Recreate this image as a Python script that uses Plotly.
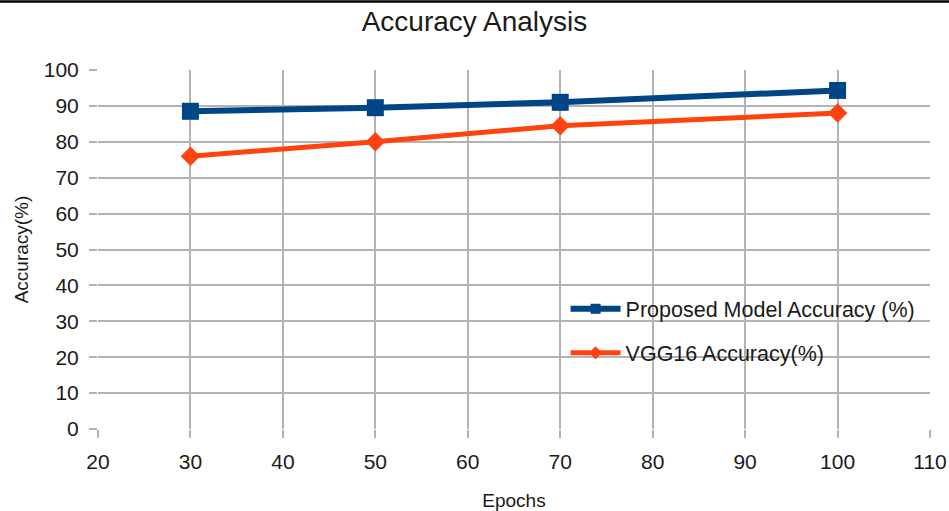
import plotly.graph_objects as go

# Accuracy per training length
epochs = [30, 50, 70, 100]
proposed_acc = [88.5, 89.5, 91.0, 94.3]
vgg16_acc = [76.0, 80.0, 84.5, 88.0]

series_names = ["Proposed Model Accuracy (%)", "VGG16 Accuracy(%)"]
series_colors = ["#004586", "#ff420e"]
series_symbols = ["square", "diamond"]

FONT = "Liberation Sans, Arial, sans-serif"
TEXT = "#1a1a1a"
GRID = "#b3b3b3"

fig = go.Figure()
for values, name, color, symbol, lw, ms in zip(
        [proposed_acc, vgg16_acc], series_names, series_colors,
        series_symbols, [6, 5], [17, 15]):
    fig.add_trace(go.Scatter(
        x=epochs, y=values, name=name, mode="lines+markers",
        line=dict(color=color, width=lw),
        marker=dict(symbol=symbol, size=ms, color=color),
        showlegend=False,
    ))

# Legend entries with a smaller marker on the line sample
for i, (name, color, symbol, lw) in enumerate(
        zip(series_names, series_colors, series_symbols, [6, 5])):
    fig.add_trace(go.Scatter(
        x=[None], y=[None], name=name, mode="lines+markers",
        line=dict(color=color, width=lw),
        marker=dict(symbol=symbol, size=10, color=color),
        legendgroup=f"g{i}",
    ))

axis_common = dict(
    showgrid=True, gridcolor=GRID, gridwidth=1.6,
    ticks="outside", ticklen=8, tickcolor=GRID, tickwidth=1.6,
    showline=False, zeroline=False, automargin=False,
    tickfont=dict(family=FONT, size=21, color=TEXT),
)

fig.update_layout(
    width=949, height=511,
    margin=dict(l=98, r=19, t=70, b=82),
    paper_bgcolor="white", plot_bgcolor="white",
    font=dict(family=FONT, color=TEXT),
    title=dict(text="Accuracy Analysis", x=0.5, xanchor="center",
               y=1 - 21 / 511, yanchor="middle", yref="container",
               font=dict(family=FONT, size=28, color=TEXT)),
    xaxis=dict(range=[20, 110], dtick=10, tick0=20,
               title=dict(text="Epochs", standoff=32,
                          font=dict(family=FONT, size=19, color=TEXT)),
               ticklabelstandoff=6, **axis_common),
    yaxis=dict(range=[0, 100], dtick=10, tick0=0,
               title=dict(text="Accuracy(%)", standoff=10,
                          font=dict(family=FONT, size=19, color=TEXT)),
               ticklabelstandoff=6, **axis_common),
    legend=dict(x=0.562, y=0.392, xanchor="left", yanchor="top",
                bgcolor="rgba(0,0,0,0)", borderwidth=0,
                tracegroupgap=13, itemwidth=50,
                font=dict(family=FONT, size=21.5, color=TEXT)),
    shapes=[dict(type="line", xref="paper", yref="paper",
                 x0=-98 / 832, x1=(949 - 98) / 832,
                 y0=1 + (70 - 1.5) / 359, y1=1 + (70 - 1.5) / 359,
                 line=dict(color="black", width=2.5))],
)

fig.write_html("out.html")
